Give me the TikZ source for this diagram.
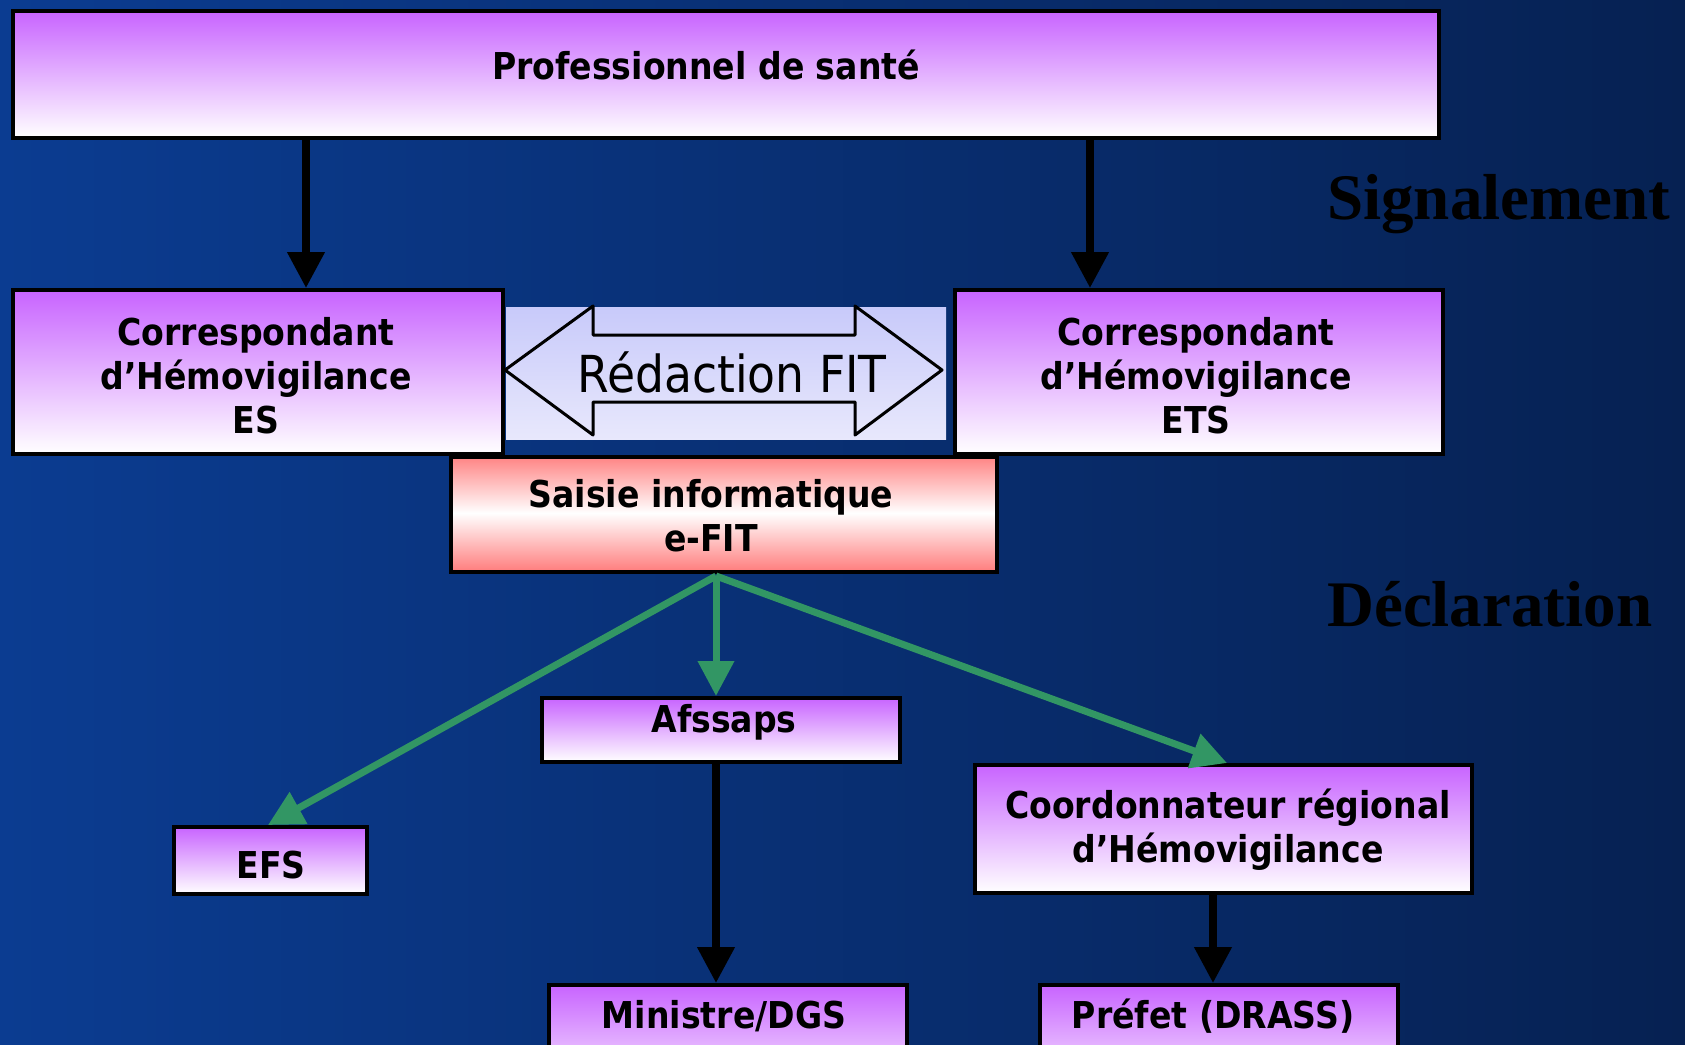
\documentclass[tikz,border=0pt]{standalone}
\usepackage{fontspec}
\usetikzlibrary{arrows.meta}
\newfontfamily\boxfont{DejaVu Sans}[FakeStretch=0.895]
\newfontfamily\titlefont{Liberation Serif}
\definecolor{bgleft}{RGB}{11,60,145}
\definecolor{bgright}{RGB}{6,33,82}
\definecolor{boxtop}{RGB}{200,100,255}
\definecolor{redtop}{RGB}{255,128,128}
\definecolor{panelTop}{RGB}{200,202,250}
\definecolor{panelBot}{RGB}{232,232,252}
\definecolor{greenarr}{RGB}{50,150,100}
\tikzset{
  pbox/.style={draw=black, line width=4pt, top color=boxtop, bottom color=white, inner sep=0pt, anchor=north west},
  btxt/.style={font=\boxfont\bfseries\fontsize{37}{44}\selectfont, align=center, text=black, inner sep=0pt},
  blackarr/.style={line width=7.5pt, draw=black, -{Triangle[length=36pt,width=36pt]}},
  greenarrow/.style={line width=7pt, draw=greenarr, -{Triangle[length=35pt,width=35pt]}, color=greenarr},
  phase/.style={font=\titlefont\bfseries\fontsize{65}{70}\selectfont, text=black, anchor=west, inner sep=0pt}
}
\begin{document}
\begin{tikzpicture}[x=1pt,y=-1pt]
\useasboundingbox (0,0) rectangle (1685,1044);
\clip (0,0) rectangle (1685,1044);
\shade[left color=bgleft, right color=bgright] (0,0) rectangle (1685,1044);

% boxes
\node[pbox, minimum width=1426pt, minimum height=127pt] (prof) at (11,9) {};
\node[pbox, minimum width=490pt, minimum height=164pt] (ces) at (11,288) {};
\node[pbox, minimum width=488pt, minimum height=164pt] (cets) at (953,288) {};
\node[pbox, minimum width=358pt, minimum height=64pt] (afs) at (540,696) {};
\node[pbox, minimum width=193pt, minimum height=67pt] (efs) at (172,825) {};
\node[pbox, minimum width=497pt, minimum height=128pt] (coord) at (973,763) {};
\node[pbox, minimum width=358pt, minimum height=120pt] (min) at (547,983) {};
\node[pbox, minimum width=358pt, minimum height=120pt] (pref) at (1038,983) {};

% Saisie box (red-white-red)
\shade[top color=redtop, bottom color=white] (449,455) rectangle (995,513);
\shade[top color=white, bottom color=redtop] (449,513) rectangle (995,570);
\node[draw=black, line width=4pt, inner sep=0pt, minimum width=546pt, minimum height=115pt, anchor=north west] (saisie) at (449,455) {};

% Redaction panel
\node[top color=panelTop, bottom color=panelBot, inner sep=0pt, minimum width=440pt, minimum height=132pt, anchor=north west] (panel) at (506,307) {};
\draw[line width=3pt, line join=round] (505,370) -- (593,306) -- (593,335) -- (855,335) -- (855,306) -- (942,370) -- (855,435) -- (855,402) -- (593,402) -- (593,435) -- cycle;
\node[font=\boxfont\fontsize{51}{56}\selectfont, inner sep=0pt] (redac) at (732,372) {Rédaction FIT};

% texts
\node[btxt] (tprof) at (706,65) {Professionnel de santé};
\node[btxt] (tces) at (256,376) {Correspondant\\d’Hémovigilance\\ES};
\node[btxt] (tcets) at (1196,376) {Correspondant\\d’Hémovigilance\\ETS};
\node[btxt] (tsais) at (711,516) {Saisie informatique\\e-FIT};
\node[btxt] (tafs) at (724,722) {Afssaps};
\node[btxt] (tefs) at (271,865) {EFS};
\node[btxt] (tcoord) at (1228,830) {Coordonnateur régional\\d’Hémovigilance};
\node[btxt] (tmin) at (724,1016) {Ministre/DGS};
\node[btxt] (tpref) at (1213,1016) {Préfet (DRASS)};

\node[phase] (sig) at (1327,204) {Signalement};
\node[phase] (decl) at (1327,604) {Déclaration};

% black arrows
\draw[blackarr] (prof.south -| 306,0) -- (ces.north -| 306,0);
\draw[blackarr] (prof.south -| 1090,0) -- (cets.north -| 1090,0);
\draw[blackarr] (afs.south -| 716,0) -- (min.north -| 716,0);
\draw[blackarr] (coord.south -| 1213,0) -- (pref.north -| 1213,0);

% green arrows
\coordinate (src) at ([yshift=-2pt]saisie.south -| 716,0);
\draw[greenarrow] (src) -- (efs.north -| 268,0);
\draw[greenarrow] (src) -- (afs.north -| 716,0);
\draw[greenarrow] (src) -- (coord.north -| 1227,0);
\end{tikzpicture}
\end{document}
